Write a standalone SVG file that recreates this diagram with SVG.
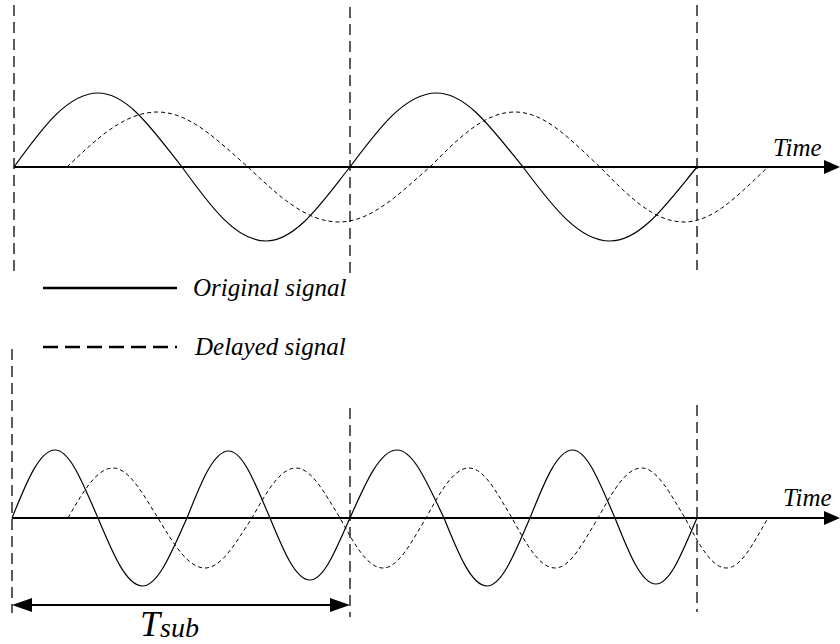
<svg xmlns="http://www.w3.org/2000/svg" width="840" height="644" viewBox="0 0 840 644">
  <style>
    .sig { fill: none; stroke: #000; stroke-width: 1.2; }
    .del { fill: none; stroke: #000; stroke-width: 1; stroke-dasharray: 4 3; }
    .vdash { fill: none; stroke: #333; stroke-width: 1.6; stroke-dasharray: 11 6; }
    .axis { fill: none; stroke: #000; stroke-width: 2; }
    .head { fill: #000; }
    .lbl { font-family: "Liberation Serif", "Times New Roman", serif; font-style: italic; fill: #000; }
  </style>
  <rect width="840" height="644" fill="#fff"/>

  <g id="top-plot">
    <line class="vdash" x1="14" y1="5" x2="14" y2="272"/>
    <line class="vdash" x1="350" y1="7" x2="350" y2="278"/>
    <line class="vdash" x1="697" y1="5" x2="697" y2="270"/>
    <line class="axis" x1="14" y1="167" x2="826" y2="167"/>
    <polygon class="head" points="840,167 824,160 824,174"/>
    <path class="sig" d="M14,167 c28.09,-38.86 53.76,-74 84,-74 c30.24,0 55.91,38.86 84,74 c28.09,38.86 53.76,74 84,74 c30.24,0 55.91,-38.86 84,-74 c28.93,-38.86 55.36,-74 86.5,-74 c31.14,0 57.57,38.86 86.5,74 c29.09,38.86 55.68,74 87,74 c31.32,0 57.91,-38.86 87,-74"/>
    <path class="del" d="M67,167 c30.26,-28.88 57.92,-55 90.5,-55 c32.58,0 60.24,28.88 90.5,55 c30.43,28.88 58.24,55 91,55 c32.76,0 60.57,-28.88 91,-55 c28.42,-28.88 54.4,-55 85,-55 c30.6,0 56.58,28.88 85,55 c28.09,28.88 53.76,55 84,55 c30.24,0 55.91,-28.88 84,-55"/>
    <text class="lbl" x="773" y="156" font-size="25">Time</text>
  </g>

  <g id="legend">
    <line x1="43" y1="288" x2="177" y2="288" stroke="#000" stroke-width="2.5"/>
    <text class="lbl" x="193" y="296" font-size="25">Original signal</text>
    <line x1="43" y1="347" x2="177" y2="347" stroke="#000" stroke-width="2.5" stroke-dasharray="15 7"/>
    <text class="lbl" x="195" y="355" font-size="25">Delayed signal</text>
  </g>

  <g id="bottom-plot">
    <line class="vdash" x1="12" y1="349" x2="12" y2="613"/>
    <line class="vdash" x1="350" y1="408" x2="350" y2="617"/>
    <line class="vdash" x1="697" y1="405" x2="697" y2="612"/>
    <line class="axis" x1="12" y1="518" x2="826" y2="518"/>
    <polygon class="head" points="840,518 824,511 824,525"/>
    <path class="sig" d="M12,518 c14.38,-35.71 27.52,-68 43,-68 c15.480,0 28.62,35.71 43,68 c14.88,35.71 28.48,68 44.5,68 c16.02,0 29.62,-35.71 44.5,-68 c13.88,-35.18 26.56,-67 41.5,-67 c14.94,0 27.62,35.18 41.5,67 c13.38,32.56 25.6,62 40,62 c14.4,0 26.62,-32.56 40,-62 c15.72,-35.71 30.08,-68 47,-68 c16.92,0 31.28,35.71 47,68 c14.38,35.71 27.52,68 43,68 c15.48,0 28.62,-35.71 43,-68 c14.21,-35.71 27.2,-68 42.5,-68 c15.3,0 28.29,35.71 42.5,68 c13.71,34.66 26.24,66 41,66 c14.76,0 27.29,-34.66 41,-66"/>
    <path class="del" d="M68,518 c15.05,-26.26 28.8,-50 45,-50 c16.2,0 29.95,26.26 45,50 c15.72,26.26 30.08,50 47,50 c16.92,0 31.28,-26.26 47,-50 c14.71,-26.26 28.16,-50 44,-50 c15.84,0 29.29,26.26 44,50 c14.38,26.26 27.52,50 43,50 c15.48,0 28.62,-26.26 43,-50 c14.38,-26.26 27.52,-50 43,-50 c15.48,0 28.62,26.26 43,50 c14.38,26.26 27.52,50 43,50 c15.48,0 28.62,-26.26 43,-50 c14.55,-26.26 27.84,-50 43.5,-50 c15.66,0 28.95,26.26 43.5,50 c13.88,26.26 26.56,50 41.5,50 c14.94,0 27.62,-26.26 41.5,-50"/>
    <text class="lbl" x="783" y="506" font-size="25">Time</text>
  </g>

  <g id="tsub">
    <line class="axis" x1="30" y1="605" x2="332" y2="605"/>
    <polygon class="head" points="12,605 32,598 32,612"/>
    <polygon class="head" points="350,605 330,598 330,612"/>
    <text class="lbl" x="140" y="636" font-size="36">T<tspan font-size="28" dy="1">sub</tspan></text>
  </g>
</svg>
